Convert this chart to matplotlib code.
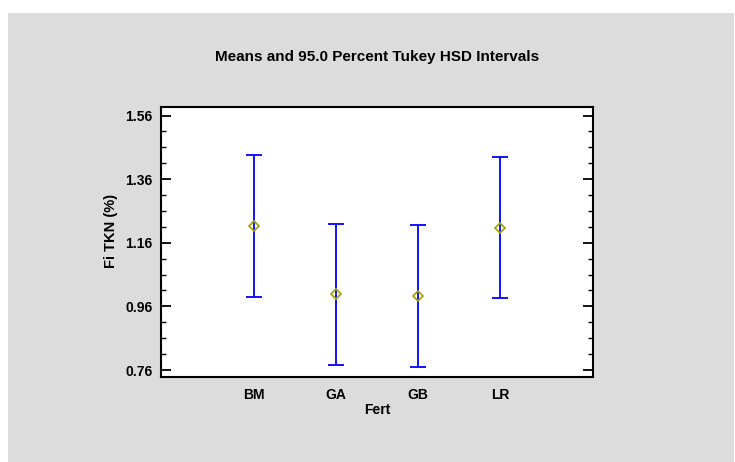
import numpy as np
import matplotlib
matplotlib.use("Agg")
import matplotlib.pyplot as plt
from matplotlib.patches import Rectangle
from matplotlib.ticker import FixedLocator

plt.rcParams['font.family'] = ['Liberation Sans', 'DejaVu Sans']

# data
groups = ['BM', 'GA', 'GB', 'LR']
means = [1.212, 0.999, 0.993, 1.208]
lower = [0.988, 0.776, 0.769, 0.985]
upper = [1.436, 1.219, 1.216, 1.429]
y_ticks = [0.76, 0.96, 1.16, 1.36, 1.56]

fig = plt.figure(figsize=(7.35, 4.62), dpi=100)
fig.patch.set_facecolor('white')
# grey panel behind the plot
fig.patches.append(Rectangle((8 / 735, 0), 726 / 735, 449 / 462,
                             transform=fig.transFigure, facecolor='#dcdcdc',
                             edgecolor='none', zorder=-10))

ax = fig.add_axes([161 / 735, 1 - 377 / 462, 432 / 735, 270 / 462])
ax.set_facecolor('white')

xpos = np.arange(1, len(groups) + 1)
m = np.array(means)
err = [m - np.array(lower), np.array(upper) - m]
ax.errorbar(xpos, m, yerr=err, fmt='none', ecolor='#0000ff', elinewidth=1.3,
            capsize=6, capthick=1.3, zorder=2)
ax.plot(xpos, m, linestyle='none', marker='D', markersize=4.8,
        markerfacecolor='none', markeredgecolor='#a0a000', markeredgewidth=1.2,
        zorder=3)

ax.set_xlim(-0.134, 5.134)
ax.set_ylim(0.738, 1.587)
ax.set_xticks(xpos)
ax.set_xticklabels(groups, fontsize=10, fontweight='bold')
ax.set_yticks(y_ticks)
ax.set_yticklabels([f'{v:.2f}' for v in y_ticks], fontsize=10, fontweight='bold')
minor = [t + k * 0.05 for t in y_ticks[:-1] for k in (1, 2, 3)]
ax.yaxis.set_minor_locator(FixedLocator(minor))
ax.tick_params(axis='x', length=0, pad=8)
ax.tick_params(axis='y', which='major', direction='in', length=7, width=1.3,
               left=True, right=True, pad=6)
ax.tick_params(axis='y', which='minor', direction='in', length=3.5, width=1,
               left=True, right=True)
for s in ax.spines.values():
    s.set_linewidth(1.5)

ax.set_xlabel('Fert', fontsize=10, fontweight='bold', labelpad=1)
ax.set_ylabel('Fi TKN (%)', fontsize=10.5, fontweight='bold')
ax.yaxis.set_label_coords(-0.1, 0.54)
fig.text(377 / 735, 1 - 57 / 462, 'Means and 95.0 Percent Tukey HSD Intervals',
         ha='center', va='center', fontsize=11, fontweight='bold')

fig.savefig('out.png', dpi=100, facecolor=fig.get_facecolor())
